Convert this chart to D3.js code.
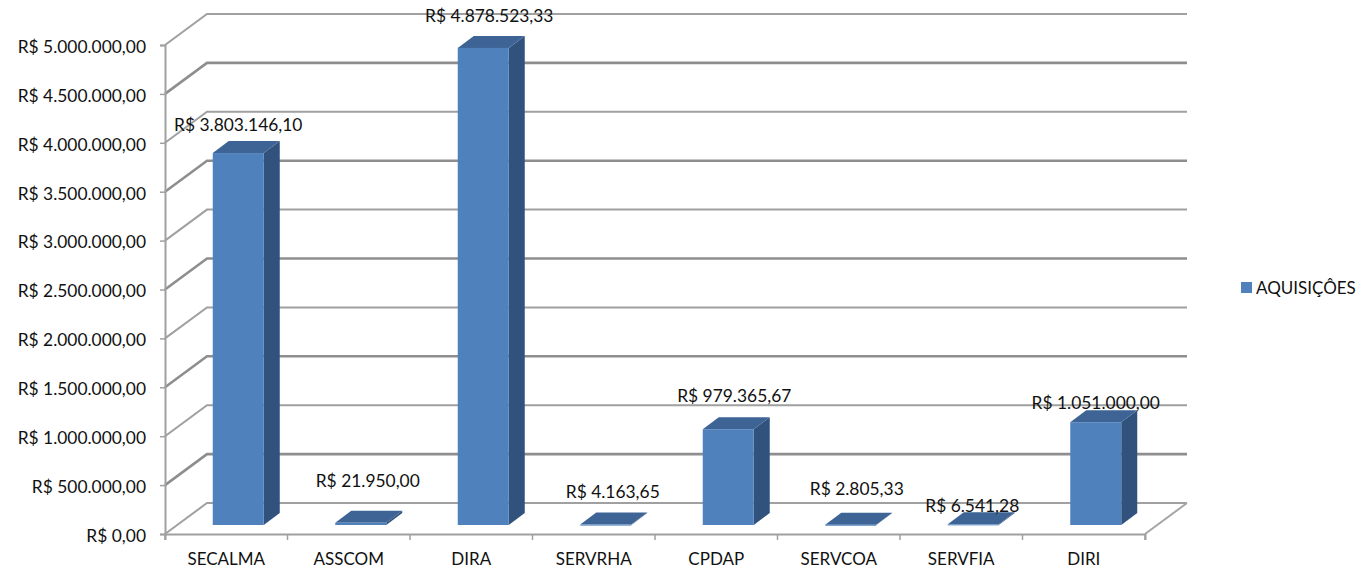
<!DOCTYPE html>
<html>
<head>
<meta charset="utf-8">
<script src="https://cdn.jsdelivr.net/npm/d3@7"></script>
<style>
  html, body { margin: 0; background: #fff; }
  text { font-family: Lato, "Open Sans", sans-serif; font-size: 17.4px; fill: #111; }
</style>
</head>
<body>
<svg id="chart" width="1358" height="571"></svg>
<script>
const CATEGORIES = ["SECALMA", "ASSCOM", "DIRA", "SERVRHA", "CPDAP", "SERVCOA", "SERVFIA", "DIRI"];
const VALUES = [3803146.10, 21950.00, 4878523.33, 4163.65, 979365.67, 2805.33, 6541.28, 1051000.00];
const Y_TICKS = [0, 500000, 1000000, 1500000, 2000000, 2500000, 3000000, 3500000, 4000000, 4500000, 5000000];
const SERIES_NAME = "AQUISIÇÔES";

// hand-placed label nudges, Excel had these dragged around: [dx, dy above bar top]
const LABEL_NUDGE = [[0, 26], [7, 40], [6, 30], [7, 31], [6, 32], [6, 34], [-1, 17], [0, 18]];

const svg = d3.select("#chart");
const brl = d3.formatLocale({ decimal: ",", thousands: ".", grouping: [3], currency: ["R$ ", ""] }).format("$,.2f");

// front plane of the fake 3D box, back wall sits up and to the right of it
const left = 165, right = 1145, floorY = 534, topY = 45;
const wallDx = 42, wallDy = -31;
const barDx = 16, barDy = -12, barLift = 9;

const x = d3.scaleBand().domain(CATEGORIES).range([left, right]);
const y = d3.scaleLinear().domain([0, 5000000]).range([floorY, topY]);
const barW = 51;
const barX = (c) => x(c) + (x.bandwidth() - barW) / 2 + 12;

const grid = svg.append("g").attr("fill", "none");
Y_TICKS.forEach((t, i) => {
  grid.append("path")
    .attr("d", d3.line()([[left, y(t)], [left + wallDx, y(t) + wallDy], [right + wallDx, y(t) + wallDy]]))
    .attr("stroke", i % 2 ? "#8e8e8e" : "#a0a0a0")
    .attr("stroke-width", i % 2 ? 2.6 : 2);
});
// floor edge, right side
grid.append("path")
  .attr("d", d3.line()([[right, floorY], [right + wallDx, floorY + wallDy]]))
  .attr("stroke", "#a6a6a6").attr("stroke-width", 2);

const axisLeft = svg.append("g").attr("transform", `translate(${left},0)`)
  .call(d3.axisLeft(y).tickValues(Y_TICKS).tickFormat(brl).tickSize(5).tickPadding(14));
const axisBottom = svg.append("g").attr("transform", `translate(0,${floorY})`)
  .call(d3.axisBottom(x).tickSize(6).tickPadding(13).tickFormat((d) => d));
svg.selectAll(".domain").attr("stroke", "#a0a0a0").attr("stroke-width", 2);
svg.selectAll(".tick line").attr("stroke", "#a0a0a0").attr("stroke-width", 1.5);
svg.selectAll(".tick text").attr("fill", "#111").style("font-family", "Lato, sans-serif");
axisLeft.selectAll(".tick text").style("font-size", "17.4px").attr("dy", "0.42em");
axisBottom.selectAll(".tick text").style("font-size", "17px");
axisBottom.selectAll(".tick line").attr("transform", `translate(${x.bandwidth() / 2},0)`);
axisBottom.append("line").attr("x1", left).attr("x2", left).attr("y1", 0).attr("y2", 6).attr("stroke", "#a0a0a0").attr("stroke-width", 1.5);

const bars = svg.append("g").selectAll("g")
  .data(CATEGORIES.map((c, i) => ({ c, v: VALUES[i], nudge: LABEL_NUDGE[i] })))
  .enter().append("g");

const base = (d) => ({ x0: barX(d.c), x1: barX(d.c) + barW, yb: y(0) - barLift, yt: y(d.v) - barLift });
const poly = (pts) => pts.map((p) => p.join(",")).join(" ");

bars.append("polygon").attr("fill", "#31527c").attr("points", (d) => {
  const b = base(d);
  return poly([[b.x1, b.yt], [b.x1 + barDx, b.yt + barDy], [b.x1 + barDx, b.yb + barDy], [b.x1, b.yb]]);
});
bars.append("polygon").attr("fill", "#3d6494").attr("points", (d) => {
  const b = base(d);
  return poly([[b.x0, b.yt], [b.x0 + barDx, b.yt + barDy], [b.x1 + barDx, b.yt + barDy], [b.x1, b.yt]]);
});
bars.append("rect").attr("fill", "#4f81bd")
  .attr("x", (d) => base(d).x0).attr("y", (d) => base(d).yt)
  .attr("width", barW).attr("height", (d) => Math.max(1, base(d).yb - base(d).yt));

bars.append("text")
  .attr("text-anchor", "middle").attr("dominant-baseline", "middle")
  .attr("x", (d) => base(d).x0 + barW / 2 + d.nudge[0])
  .attr("y", (d) => base(d).yt - d.nudge[1])
  .text((d) => brl(d.v));

const legend = svg.append("g");
legend.append("rect").attr("x", 1241).attr("y", 282).attr("width", 11).attr("height", 11).attr("fill", "#4f81bd");
legend.append("text").attr("x", 1256).attr("y", 294).style("font-size", "17px").text(SERIES_NAME);
</script>
</body>
</html>
